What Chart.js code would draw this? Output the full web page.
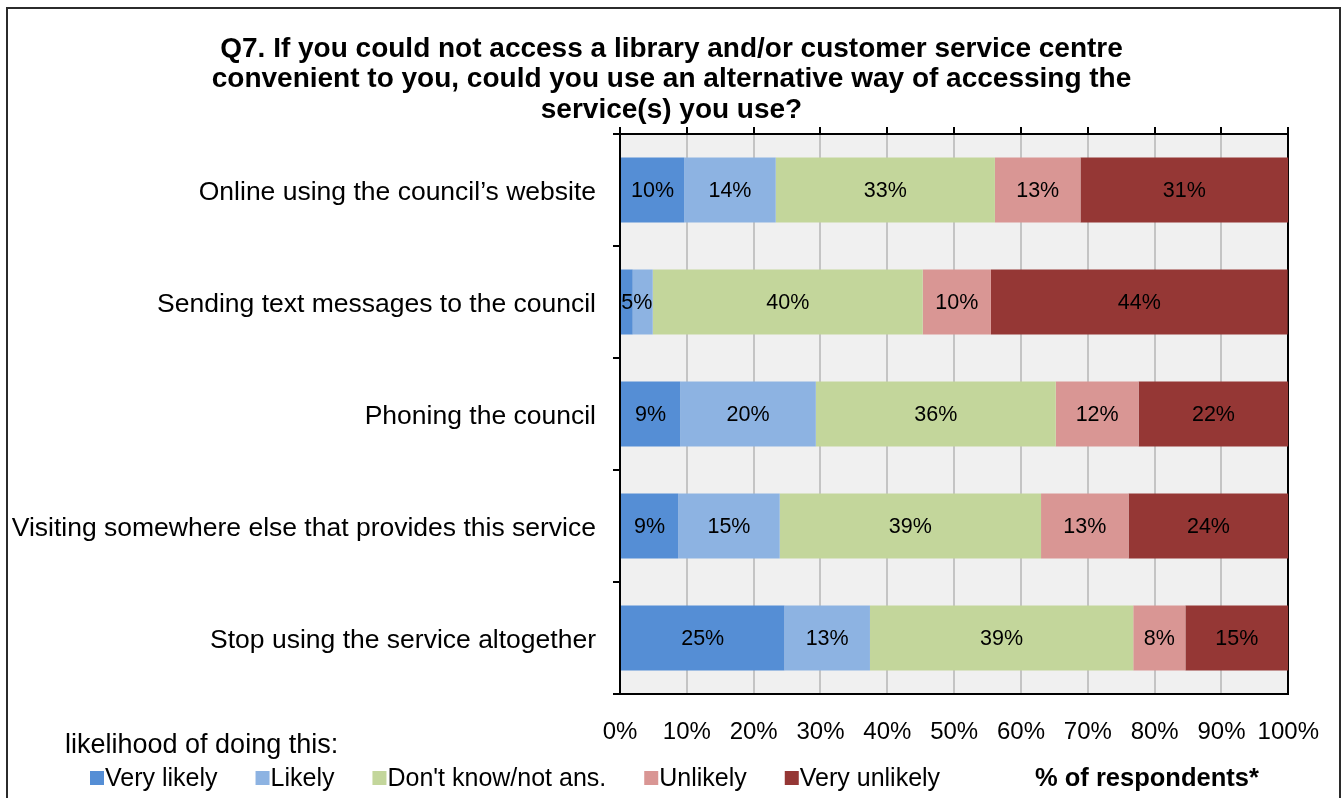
<!DOCTYPE html>
<html>
<head>
<meta charset="utf-8">
<title>Q7 alternative access</title>
<script src="https://cdn.jsdelivr.net/npm/chart.js@4.4.1/dist/chart.umd.min.js"></script>
<style>
    html, body { margin: 0; padding: 0; background: #fff; }
    #wrap { width: 1343px; height: 798px; position: relative; }
</style>
</head>
<body>
<div id="wrap"><canvas id="q7Chart" width="1343" height="798"></canvas></div>
<script>
const categories = [
    "Online using the council\u2019s website",
    "Sending text messages to the council",
    "Phoning the council",
    "Visiting somewhere else that provides this service",
    "Stop using the service altogether"
];

// % of respondents per answer, one value per category (top to bottom)
const veryLikely   = [9.6, 1.9, 9.0, 8.7, 24.6];
const likely       = [13.7, 3.0, 20.3, 15.2, 12.8];
const dontKnow     = [32.8, 40.4, 35.9, 39.1, 39.4];
const unlikely     = [12.8, 10.2, 12.4, 13.1, 7.8];
const veryUnlikely = [31.1, 44.4, 22.4, 23.9, 15.4];

const seriesNames  = ["Very likely", "Likely", "Don't know/not ans.", "Unlikely", "Very unlikely"];
const seriesColors = ["#558ed5", "#8db3e2", "#c3d69b", "#d99694", "#953735"];
const xTicks = [0, 10, 20, 30, 40, 50, 60, 70, 80, 90, 100];

const titleLines = [
    "Q7. If you could not access a library and/or customer service centre",
    "convenient to you, could you use an alternative way of accessing the",
    "service(s) you use?"
];

const FONT = "'Liberation Sans', Arial, sans-serif";
const TITLE_TOP = 34;

// grey plot background plus the frame round the whole chart
const backdrop = {
    id: 'backdrop',
    beforeDraw(chart) {
        const { ctx, chartArea: a } = chart;
        ctx.save();
        ctx.fillStyle = '#f0f0f0';
        ctx.fillRect(a.left, a.top, a.right - a.left, a.bottom - a.top);
        ctx.strokeStyle = '#2b2b2b';
        ctx.lineWidth = 2;
        ctx.strokeRect(7, 8, 1333, 820);
        ctx.restore();
    }
};

// percentage labels in the middle of each segment; two thin leading
// segments get one shared label instead
const segmentLabels = {
    id: 'segmentLabels',
    afterDatasetsDraw(chart) {
        const ctx = chart.ctx;
        ctx.save();
        ctx.font = "21.5px " + FONT;
        ctx.fillStyle = '#000';
        ctx.textAlign = 'center';
        ctx.textBaseline = 'middle';
        categories.forEach((c, i) => {
            const m0 = chart.getDatasetMeta(0).data[i];
            const m1 = chart.getDatasetMeta(1).data[i];
            const v0 = chart.data.datasets[0].data[i];
            const v1 = chart.data.datasets[1].data[i];
            if (v0 < 4 && v1 < 4) {
                ctx.fillText(Math.round(v0 + v1) + '%', (m0.base + m1.x) / 2, m0.y + 1);
            }
            chart.data.datasets.forEach((ds, d) => {
                const v = ds.data[i];
                if (v < 4) return;
                const bar = chart.getDatasetMeta(d).data[i];
                ctx.fillText(Math.round(v) + '%', (bar.base + bar.x) / 2, bar.y + 1);
            });
        });
        ctx.restore();
    }
};

// legend row and the footnote texts under the axis
const legendRow = {
    id: 'legendRow',
    afterDraw(chart) {
        const ctx = chart.ctx;
        ctx.save();
        ctx.fillStyle = '#000';
        ctx.textBaseline = 'middle';
        ctx.textAlign = 'left';
        ctx.font = "27px " + FONT;
        ctx.fillText("likelihood of doing this:", 65, 746);

        ctx.font = "25px " + FONT;
        let x = 90;
        const y = 779;
        seriesNames.forEach((name, i) => {
            ctx.fillStyle = seriesColors[i];
            ctx.fillRect(x, y - 8, 14, 14);
            ctx.fillStyle = '#000';
            ctx.fillText(name, x + 15, y);
            x += 15 + ctx.measureText(name).width + 38;
        });

        ctx.font = "bold 25.5px " + FONT;
        ctx.fillText("% of respondents*", 1035, y);
        ctx.restore();
    }
};

function loadChart() {
    const ctx = document.getElementById('q7Chart').getContext('2d');
    const series = [veryLikely, likely, dontKnow, unlikely, veryUnlikely];

    new Chart(ctx, {
        type: 'bar',
        data: {
            labels: categories,
            datasets: series.map((vals, i) => ({
                label: seriesNames[i],
                data: vals,
                backgroundColor: seriesColors[i],
                borderWidth: 0,
                categoryPercentage: 1,
                barPercentage: 0.58
            }))
        },
        options: {
            indexAxis: 'y',
            responsive: false,
            animation: false,
            layout: { padding: 0 },
            plugins: {
                legend: { display: false },
                tooltip: { enabled: false },
                title: {
                    display: true,
                    text: titleLines,
                    color: '#000',
                    font: { family: FONT, size: 28, weight: 'bold', lineHeight: 1.09 },
                    padding: { top: TITLE_TOP, bottom: 0 }
                }
            },
            scales: {
                x: {
                    stacked: true,
                    min: 0,
                    max: 100,
                    afterBuildTicks: s => { s.ticks = xTicks.map(v => ({ value: v })); },
                    afterFit: s => { s.height = 104; },
                    ticks: {
                        color: '#000',
                        font: { family: FONT, size: 24 },
                        padding: 24,
                        maxRotation: 0,
                        minRotation: 0,
                        autoSkip: false,
                        callback: v => v + '%'
                    },
                    grid: {
                        drawTicks: false,
                        lineWidth: 2,
                        color: c => (c.tick && c.tick.value === 100) ? '#000' : '#c4c4c4'
                    },
                    border: { color: '#000', width: 2 }
                },
                x2: {
                    type: 'linear',
                    position: 'top',
                    min: 0,
                    max: 100,
                    afterBuildTicks: s => { s.ticks = xTicks.map(v => ({ value: v })); },
                    afterFit: s => { s.height = 134 - TITLE_TOP - 3 * 28 * 1.09; },
                    ticks: { display: false },
                    grid: { drawOnChartArea: false, drawTicks: true, tickLength: 7, color: '#000', lineWidth: 2 },
                    border: { color: '#000', width: 2 }
                },
                y: {
                    stacked: true,
                    afterFit: s => { s.width = 620; },
                    ticks: {
                        color: '#000',
                        font: { family: FONT, size: 26.5 },
                        padding: 17,
                        labelOffset: 3
                    },
                    grid: { drawOnChartArea: false, drawTicks: true, tickLength: 7, color: '#000', lineWidth: 2 },
                    border: { color: '#000', width: 2 }
                },
                // empty strip on the right so the plot stops short of the frame
                yRight: {
                    type: 'category',
                    position: 'right',
                    afterFit: s => { s.width = 51; },
                    ticks: { display: false },
                    grid: { display: false },
                    border: { display: false }
                }
            }
        },
        plugins: [backdrop, segmentLabels, legendRow]
    });
}

window.onload = loadChart;
</script>
</body>
</html>
